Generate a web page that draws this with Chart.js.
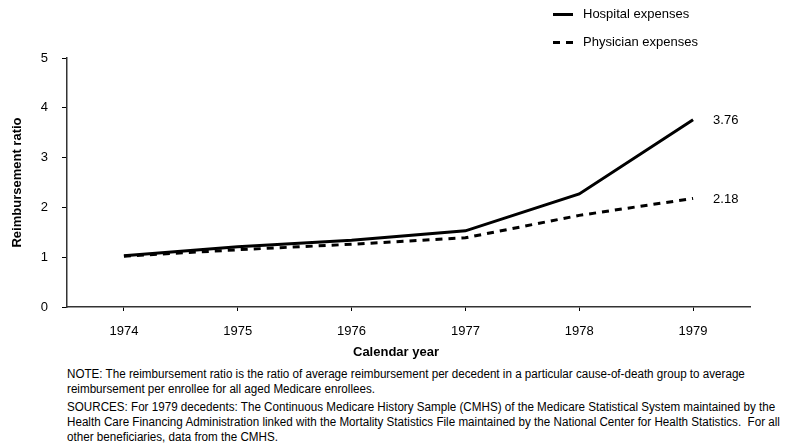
<!DOCTYPE html>
<html lang="en">
<head>
    <meta charset="UTF-8">
    <title>Reimbursement ratio</title>
    <script src="https://cdn.jsdelivr.net/npm/chart.js"></script>
    <style>
        body {
            margin: 0;
            width: 790px;
            height: 447px;
            overflow: hidden;
            background: #fff;
            font-family: "Liberation Sans", Arial, sans-serif;
            color: #000;
            position: relative;
        }

        .chart-box {
            position: absolute;
            left: 0;
            top: 0;
            width: 790px;
            height: 365px;
        }

        .legend-row {
            position: absolute;
            left: 553px;
            height: 16px;
            font-size: 13px;
            line-height: 16px;
        }

        .legend-row .swatch {
            position: absolute;
            left: 0;
            top: 7px;
            width: 20px;
            height: 3px;
        }

        .legend-row span {
            position: absolute;
            left: 30px;
            top: 0;
            white-space: nowrap;
        }

        /* x axis title sits a little left of the plot centre in the original */
        .x-title {
            position: absolute;
            left: 296px;
            width: 200px;
            top: 344px;
            text-align: center;
            font-size: 13px;
            font-weight: bold;
            line-height: 16px;
        }

        .notes {
            position: absolute;
            left: 67px;
            top: 367px;
            font-size: 12px;
            line-height: 15px;
            white-space: nowrap;
            transform: scaleX(0.97);
            transform-origin: left top;
        }

        .notes p {
            margin: 0 0 3px 0;
        }
    </style>
</head>
<body>
    <div class="chart-box">
        <canvas id="lineChart" width="790" height="365"></canvas>
    </div>

    <div class="legend-row" style="top: 6px;">
        <div class="swatch" style="background: #000;"></div>
        <span>Hospital expenses</span>
    </div>
    <div class="legend-row" style="top: 34px;">
        <div class="swatch" style="background: repeating-linear-gradient(to right, #000 0 7px, transparent 7px 13px);"></div>
        <span>Physician expenses</span>
    </div>

    <div class="x-title">Calendar year</div>

    <div class="notes">
        <p>NOTE: The reimbursement ratio is the ratio of average reimbursement per decedent in a particular cause-of-death group to average<br>reimbursement per enrollee for all aged Medicare enrollees.</p>
        <p>SOURCES: For 1979 decedents: The Continuous Medicare History Sample (CMHS) of the Medicare Statistical System maintained by the<br>Health Care Financing Administration linked with the Mortality Statistics File maintained by the National Center for Health Statistics.&nbsp; For all<br>other beneficiaries, data from the CMHS.</p>
    </div>

    <script>
        const years = ['1974', '1975', '1976', '1977', '1978', '1979'];
        const hospitalRatio = [1.03, 1.21, 1.34, 1.53, 2.27, 3.76];
        const physicianRatio = [1.02, 1.15, 1.26, 1.39, 1.84, 2.18];

        const tickFont = { family: "'Liberation Sans', Arial, sans-serif", size: 13 };
        const titleFont = { family: "'Liberation Sans', Arial, sans-serif", size: 13, weight: 'bold' };

        // writes the last value of each line just to the right of its end point
        const endLabels = {
            id: 'endLabels',
            afterDatasetsDraw(chart) {
                const ctx = chart.ctx;
                ctx.save();
                ctx.font = "13px 'Liberation Sans', Arial, sans-serif";
                ctx.fillStyle = '#000';
                ctx.textAlign = 'left';
                ctx.textBaseline = 'middle';
                chart.data.datasets.forEach((ds, i) => {
                    const pts = chart.getDatasetMeta(i).data;
                    const last = pts[pts.length - 1];
                    const val = ds.data[ds.data.length - 1];
                    ctx.fillText(val.toFixed(2), last.x + 20, last.y + 1);
                });
                ctx.restore();
            }
        };

        const ctx = document.getElementById('lineChart').getContext('2d');
        new Chart(ctx, {
            type: 'line',
            data: {
                labels: years,
                datasets: [{
                    label: 'Hospital expenses',
                    data: hospitalRatio,
                    borderColor: '#000',
                    borderWidth: 3,
                    pointRadius: 0,
                    tension: 0
                }, {
                    label: 'Physician expenses',
                    data: physicianRatio,
                    borderColor: '#000',
                    borderWidth: 3,
                    borderDash: [7, 6],
                    pointRadius: 0,
                    tension: 0
                }]
            },
            options: {
                responsive: false,
                animation: false,
                layout: { padding: { top: 58, right: 40, left: 0, bottom: 0 } },
                plugins: {
                    legend: { display: false },
                    tooltip: { enabled: false }
                },
                scales: {
                    x: {
                        offset: true,
                        afterFit(scale) { scale.height = 58; },
                        grid: {
                            display: true,
                            drawOnChartArea: false,
                            drawTicks: true,
                            tickLength: 4,
                            color: '#000'
                        },
                        border: { display: true, color: '#333', width: 1.5 },
                        ticks: { color: '#000', font: tickFont, padding: 13, maxRotation: 0 }
                    },
                    y: {
                        min: 0,
                        max: 5,
                        afterFit(scale) { scale.width = 67; },
                        grid: {
                            display: true,
                            drawOnChartArea: false,
                            drawTicks: true,
                            tickLength: 5,
                            color: '#000'
                        },
                        border: { display: true, color: '#333', width: 1.5 },
                        ticks: { stepSize: 1, color: '#000', font: tickFont, padding: 14 },
                        title: {
                            display: true,
                            text: 'Reimbursement ratio',
                            color: '#000',
                            font: titleFont,
                            padding: { top: 10, bottom: 0 }
                        }
                    }
                }
            },
            plugins: [endLabels]
        });
    </script>
</body>
</html>
